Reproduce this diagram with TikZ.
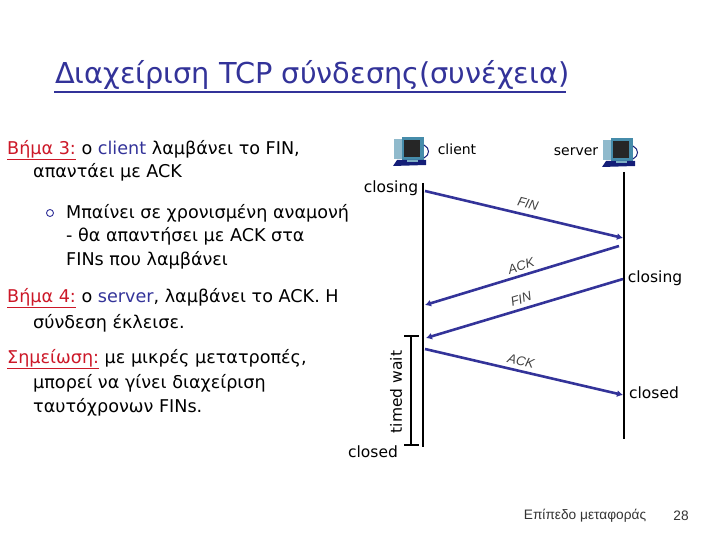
\documentclass[tikz,border=0pt]{standalone}
\usepackage{fontspec}
\setmainfont{DejaVu Sans}
\newfontfamily\footfont{Liberation Sans}
\definecolor{slideblue}{RGB}{51,51,153}
\definecolor{stepred}{RGB}{204,24,40}
\definecolor{pcnavy}{RGB}{20,30,120}
\definecolor{pcteal}{RGB}{70,140,170}
\usetikzlibrary{arrows.meta}
\tikzset{
    timeline/.style={line width=2.2pt},
    msg/.style={line width=2.6pt, slideblue, -{Latex[length=6pt,width=7pt]}},
    bodytext/.style={anchor=west, inner sep=0pt, font=\fontsize{17.6}{18}\selectfont},
    statelabel/.style={inner sep=0pt, font=\fontsize{15.5}{18}\selectfont},
    hostlabel/.style={inner sep=0pt, font=\fontsize{14}{16}\selectfont},
    msglabel/.style={inner sep=0pt, text=black!75, font=\fontsize{13}{14}\footfont\itshape},
    footlabel/.style={inner sep=0pt, text=black!80, font=\fontsize{13.7}{14}\footfont},
    pc/.pic={
        \fill[pcteal!60] (-18,-12) rectangle (-10,8);
        \fill[pcteal] (-10,-14) rectangle (12,9);
        \fill[black!85] (-8,-11) rectangle (8,6);
        \draw[pcnavy, line width=1pt] (12,-6) .. controls (18,-3) and (18,4) .. (12,7);
        \fill[pcnavy] (-15,9) -- (14,9) -- (14,14) -- (-19,15) -- cycle;
        \fill[pcteal!70] (-5,9) rectangle (6,11);
    }
}
\begin{document}
\begin{tikzpicture}[x=1pt,y=-1pt]
    \useasboundingbox (0,0) rectangle (720,540);
    % Title
    \node[anchor=west, inner sep=0pt, text=slideblue, font=\fontsize{28.8}{32}\selectfont] (title) at (55,75)
        {Διαχείριση TCP σύνδεσης(συνέχεια)};
    \coordinate (ruleL) at (54,92);
    \coordinate (ruleR) at (566,92);
    \draw[slideblue, line width=2pt] (ruleL) -- (ruleR);
    % Left column
    \node[bodytext] (step3a) at (7,150) {\textcolor{stepred}{\underline{Βήμα 3:}} ο \textcolor{slideblue}{client} λαμβάνει το FIN,};
    \node[bodytext] (step3b) at (33,172) {απαντάει με ACK};
    \node[circle, draw=slideblue, line width=0.9pt, minimum size=7pt, inner sep=0pt] (bullet) at (50,213) {};
    \node[bodytext] (wait1) at (66,213) {Μπαίνει σε χρονισμένη αναμονή};
    \node[bodytext] (wait2) at (66,236) {- θα απαντήσει με ACK στα};
    \node[bodytext] (wait3) at (66,260) {FINs που λαμβάνει};
    \node[bodytext] (step4a) at (7,298) {\textcolor{stepred}{\underline{Βήμα 4:}} ο \textcolor{slideblue}{server}, λαμβάνει το ACK. Η};
    \node[bodytext] (step4b) at (33,323) {σύνδεση έκλεισε.};
    \node[bodytext] (note1) at (7,359) {\textcolor{stepred}{\underline{Σημείωση:}} με μικρές μετατροπές,};
    \node[bodytext] (note2) at (33,383) {μπορεί να γίνει διαχείριση};
    \node[bodytext] (note3) at (33,407) {ταυτόχρονων FINs.};
    % Hosts
    \pic at (412,151) {pc};
    \pic at (621,152) {pc};
    \node[hostlabel] (client) at (457,149) {client};
    \node[hostlabel] (server) at (576,152) {server};
    % Time lines
    \coordinate (clientTop) at (423,183);
    \coordinate (clientEnd) at (423,447);
    \coordinate (serverTop) at (624,172);
    \coordinate (serverEnd) at (624,439);
    \draw[timeline] (clientTop) -- (clientEnd);
    \draw[timeline] (serverTop) -- (serverEnd);
    % Messages
    \coordinate (finA) at (425,191);
    \coordinate (finB) at (623,238);
    \coordinate (ackA) at (619,246);
    \coordinate (ackB) at (425,305);
    \coordinate (fin2A) at (623,279);
    \coordinate (fin2B) at (426,338);
    \coordinate (ack2A) at (425,349);
    \coordinate (ack2B) at (623,395);
    \draw[msg] (finA) -- (finB);
    \draw[msg] (ackA) -- (ackB);
    \draw[msg] (fin2A) -- (fin2B);
    \draw[msg] (ack2A) -- (ack2B);
    \node[msglabel, rotate=-14] (finlabel) at (528,204) {FIN};
    \node[msglabel, rotate=17] (acklabel) at (521,266) {ACK};
    \node[msglabel, rotate=17] (fin2label) at (521,299) {FIN};
    \node[msglabel, rotate=-13] (ack2label) at (521,361) {ACK};
    % States
    \node[statelabel] (closingC) at (391,188) {closing};
    \node[statelabel] (closingS) at (655,278) {closing};
    \node[statelabel] (closedS) at (654,393) {closed};
    \node[statelabel] (closedC) at (373,452) {closed};
    % Timed wait
    \coordinate (waitTop) at (411,336);
    \coordinate (waitEnd) at (411,445);
    \draw[timeline] (waitTop) -- (waitEnd);
    \draw[timeline] (404,336) -- (419,336);
    \draw[timeline] (404,445) -- (419,445);
    \node[statelabel, rotate=90] (timedwait) at (396,392) {timed wait};
    % Footer
    \node[footlabel] (footer) at (585,516) {Επίπεδο μεταφοράς};
    \node[footlabel] (pageno) at (681,516) {28};
\end{tikzpicture}
\end{document}
